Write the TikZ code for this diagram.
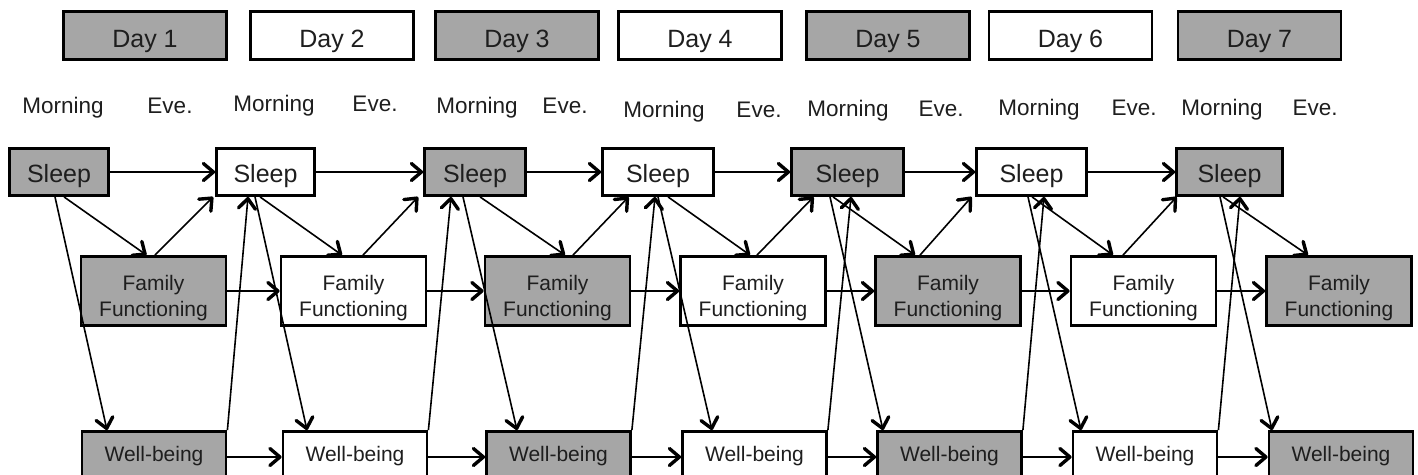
\documentclass[tikz,border=0pt]{standalone}
\usepackage{fontspec}
\setmainfont{Liberation Sans}
\usetikzlibrary{arrows.meta}
\definecolor{boxgray}{RGB}{166,166,166}
\definecolor{txt}{RGB}{30,30,30}
\tikzset{
  box/.style={draw=black, line width=2.8pt, inner sep=0pt, align=center, text=txt},
  gb/.style={box, fill=boxgray},
  wb/.style={box, fill=white},
  daybox/.style={minimum width=163pt, minimum height=48pt, text height=23pt, text depth=0pt, font=\fontsize{25}{30}\selectfont},
  sleepbox/.style={minimum height=47pt, text height=20pt, text depth=0pt, font=\fontsize{25}{30}\selectfont},
  ffbox/.style={minimum width=145pt, minimum height=69pt, text height=50pt, text depth=0pt, font=\fontsize{21}{26}\selectfont},
  wbbox/.style={minimum width=144pt, minimum height=51pt, text height=9pt, text depth=0pt, font=\fontsize{21}{26}\selectfont},
  lbl/.style={anchor=base, inner sep=0pt, text=txt, font=\fontsize{22.5}{27}\selectfont},
  arr/.style={line width=1.6pt, -{Straight Barb[length=10pt,width=17pt,line width=3.4pt,round]}}
}
\newcommand{\fftext}{\begin{tabular}[b]{@{}c@{}}Family\\Functioning\end{tabular}}
\begin{document}
\begin{tikzpicture}[x=1pt,y=-1pt]
\useasboundingbox (0,0) rectangle (1418,474);
\clip (0,0) rectangle (1418,474);
% days
\node[gb,daybox] (d1) at (145,35.5) {Day 1};
\node[wb,daybox] (d2) at (332,35.5) {Day 2};
\node[gb,daybox] (d3) at (517,35.5) {Day 3};
\node[wb,daybox] (d4) at (700,35.5) {Day 4};
\node[gb,daybox] (d5) at (888,35.5) {Day 5};
\node[wb,daybox] (d6) at (1070.5,35.5) {Day 6};
\node[gb,daybox] (d7) at (1259.5,35.5) {Day 7};
% labels
\node[lbl] (m1) at (63,113) {Morning};
\node[lbl] (e1) at (170,113) {Eve.};
\node[lbl] (m2) at (274,111) {Morning};
\node[lbl] (e2) at (375,111) {Eve.};
\node[lbl] (m3) at (477,113) {Morning};
\node[lbl] (e3) at (565,113) {Eve.};
\node[lbl] (m4) at (664,117) {Morning};
\node[lbl] (e4) at (759,117) {Eve.};
\node[lbl] (m5) at (848,116) {Morning};
\node[lbl] (e5) at (941,116) {Eve.};
\node[lbl] (m6) at (1039,115) {Morning};
\node[lbl] (e6) at (1134,115) {Eve.};
\node[lbl] (m7) at (1222,115) {Morning};
\node[lbl] (e7) at (1315,115) {Eve.};
% sleep
\node[gb,sleepbox,minimum width=99pt] (s1) at (59,172) {Sleep};
\node[wb,sleepbox,minimum width=98pt] (s2) at (265.5,172) {Sleep};
\node[gb,sleepbox,minimum width=101pt] (s3) at (475,172) {Sleep};
\node[wb,sleepbox,minimum width=111pt] (s4) at (658,172) {Sleep};
\node[gb,sleepbox,minimum width=112pt] (s5) at (847.5,172) {Sleep};
\node[wb,sleepbox,minimum width=110pt] (s6) at (1031.5,172) {Sleep};
\node[gb,sleepbox,minimum width=106pt] (s7) at (1229.5,172) {Sleep};
% family functioning
\node[gb,ffbox] (f1) at (153.5,291) {\fftext};
\node[wb,ffbox] (f2) at (353.5,291) {\fftext};
\node[gb,ffbox] (f3) at (557.5,291) {\fftext};
\node[wb,ffbox] (f4) at (753,291) {\fftext};
\node[gb,ffbox] (f5) at (948,291) {\fftext};
\node[wb,ffbox] (f6) at (1143.5,291) {\fftext};
\node[gb,ffbox] (f7) at (1339,291) {\fftext};
% well-being
\node[gb,wbbox] (w1) at (154,457) {Well-being};
\node[wb,wbbox] (w2) at (355,457) {Well-being};
\node[gb,wbbox] (w3) at (558.5,457) {Well-being};
\node[wb,wbbox] (w4) at (754.5,457) {Well-being};
\node[gb,wbbox] (w5) at (949.5,457) {Well-being};
\node[wb,wbbox] (w6) at (1145,457) {Well-being};
\node[gb,wbbox] (w7) at (1341,457) {Well-being};
% horizontal arrows
\foreach \a/\b in {1/2,2/3,3/4,4/5,5/6,6/7}{
  \draw[arr] (s\a.east) -- (s\b.west);
  \draw[arr] (f\a.east) -- (f\b.west);
  \draw[arr] (w\a.east) -- (w\b.west);
}
% sleep -> family functioning
\draw[arr] ([xshift=5pt]s1.south) -- ([xshift=-7pt]f1.north);
\draw[arr] ([xshift=-5.5pt]s2.south) -- ([xshift=-11.5pt]f2.north);
\draw[arr] ([xshift=5pt]s3.south) -- ([xshift=7.5pt]f3.north);
\draw[arr] ([xshift=10pt]s4.south) -- ([xshift=-3pt]f4.north);
\draw[arr] ([xshift=-14.5pt]s5.south) -- ([xshift=-33pt]f5.north);
\draw[arr] ([xshift=0.5pt]s6.south) -- ([xshift=-30.5pt]f6.north);
\draw[arr] ([xshift=-6.5pt]s7.south) -- ([xshift=-31pt]f7.north);
% family functioning -> next sleep
\draw[arr] ([xshift=1.5pt]f1.north) -- ([xshift=-2pt]s2.south west);
\draw[arr] ([xshift=9.5pt]f2.north) -- ([xshift=-5pt]s3.south west);
\draw[arr] ([xshift=15.5pt]f3.north) -- ([xshift=27.5pt]s4.south west);
\draw[arr] ([xshift=4pt]f4.north) -- ([xshift=23.5pt]s5.south west);
\draw[arr] ([xshift=-28pt]f5.north) -- ([xshift=-3.5pt]s6.south west);
\draw[arr] ([xshift=-20.5pt]f6.north) -- ([xshift=1.5pt]s7.south west);
% sleep -> well-being
\draw[arr] ([xshift=-4pt]s1.south) -- ([xshift=-47pt]w1.north);
\draw[arr] ([xshift=-10.5pt]s2.south) -- ([xshift=-48pt]w2.north);
\draw[arr] ([xshift=-12pt]s3.south) -- ([xshift=-41.5pt]w3.north);
\draw[arr] ([xshift=0pt]s4.south) -- ([xshift=-42.5pt]w4.north);
\draw[arr] ([xshift=-17.5pt]s5.south) -- ([xshift=-66.5pt]w5.north);
\draw[arr] ([xshift=-3.5pt]s6.south) -- ([xshift=-64pt]w6.north);
\draw[arr] ([xshift=-9.5pt]s7.south) -- ([xshift=-69pt]w7.north);
% well-being -> next sleep
\draw[arr] (w1.north east) -- ([xshift=-17.5pt]s2.south);
\draw[arr] (w2.north east) -- ([xshift=-24pt]s3.south);
\draw[arr] (w3.north east) -- ([xshift=-3pt]s4.south);
\draw[arr] (w4.north east) -- ([xshift=3.5pt]s5.south);
\draw[arr] (w5.north east) -- ([xshift=12.5pt]s6.south);
\draw[arr] (w6.north east) -- ([xshift=10.5pt]s7.south);
\end{tikzpicture}
\end{document}
